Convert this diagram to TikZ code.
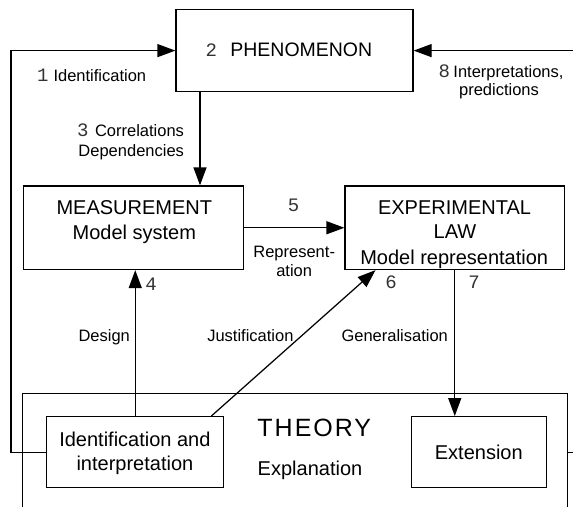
\documentclass[tikz,border=0pt]{standalone}
\usepackage{fontspec}
\setmainfont{Liberation Sans}
\newfontfamily\numfont{Liberation Mono}
\newfontfamily\widefont[LetterSpace=8]{Liberation Sans}
\usetikzlibrary{arrows.meta}

\begin{document}
\begin{tikzpicture}[x=1pt,y=-1pt,
  line width=1.25pt,
  box/.style={draw, inner sep=0pt},
  link/.style={-{Triangle[length=18pt,width=13pt]}},
  boxtext/.style={anchor=base, inner sep=0pt, font=\fontsize{20}{24}\selectfont},
  lbl/.style={anchor=base, inner sep=0pt, font=\fontsize{16.5}{19}\selectfont},
  digit/.style={anchor=base, inner sep=0pt, text=black!80, font=\fontsize{19}{22}\numfont},
]
\useasboundingbox (0,0) rectangle (573,507);

% main boxes
\node[box, minimum width=237pt, minimum height=82.2pt] (phen) at (294.5,50.6) {};
\node[box, minimum width=220pt, minimum height=83.5pt] (meas) at (133.5,227.75) {};
\node[box, minimum width=219.5pt, minimum height=83.5pt] (exp) at (454.75,227.75) {};
\node[box, minimum width=176.9pt, minimum height=71pt] (ident) at (135.25,452.2) {};
\node[box, minimum width=135.2pt, minimum height=71pt] (ext) at (478.8,452.2) {};

% theory frame, open at the bottom
\coordinate (thBL) at (22.7,507);
\coordinate (thTL) at (22.7,393.3);
\coordinate (thTR) at (567.6,393.3);
\coordinate (thBR) at (567.6,507);
\draw (thBL) -- (thTL) -- (thTR) -- (thBR);

% box texts
\node[boxtext] (phenT) at (205,56.7) [anchor=base west,
  font=\fontsize{19.5}{23}\selectfont]
  {{\color{black!80}\fontsize{19}{22}\numfont 2}\hspace{13.3pt}PHENOMENON};
\node[boxtext] (measA) at (134.3,214) {MEASUREMENT};
\node[boxtext] (measB) at (134.3,239) {Model system};
\node[boxtext] (expA) at (454.5,214) {EXPERIMENTAL};
\node[boxtext] (expB) at (455,238.3) {LAW};
\node[boxtext] (expC) at (454.2,264) {Model representation};
\node[boxtext] (identA) at (134.9,446) {Identification and};
\node[boxtext] (identB) at (134.9,470.7) {interpretation};
\node[boxtext] (extT) at (478.8,459.3) {Extension};
\node[boxtext, font=\fontsize{25}{29}\widefont] (theoryT) at (314.3,436) {THEORY};
\node[boxtext] (explT) at (310,475.7) {Explanation};

% connectors
\coordinate (lc) at (11,452.2);
\coordinate (rin) at (573,50.6);
\coordinate (rout) at (573,452.2);
\coordinate (a3) at (200,0);
\coordinate (j0) at (211.3,0);
\coordinate (j1) at (375.5,0);

\draw[link] (ident.west) -- (lc) |- (phen.west);
\draw[link] (rin) -- (phen.east);
\draw (thTR |- rout) -- (rout);
\draw[link] (phen.south -| a3) -- (meas.north -| a3);
\draw[link] (meas.east) -- (exp.west);
\draw[link] (ident.north) -- (ident.north |- meas.south);
\draw[link] (ident.north -| j0) -- (exp.south -| j1);
\draw[link] (exp.south) -- (exp.south |- ext.north);

% connector labels
\node[lbl, anchor=base west] (l1) at (36.5,81.7)
  {{\color{black!80}\fontsize{19}{22}\numfont 1}\hspace{5pt}Identification};
\node[lbl] (l8a) at (501,77.5)
  {{\color{black!80}\fontsize{19}{22}\numfont 8}\hspace{3.5pt}Interpretations,};
\node[lbl] (l8b) at (499,95) {predictions};
\node[lbl, anchor=base east] (l3a) at (184.6,136.7)
  {{\color{black!80}\fontsize{19}{22}\numfont 3}\hspace{6.5pt}Correlations};
\node[lbl, anchor=base east] (l3b) at (184.6,156.7) {Dependencies};
\node[digit] (l5) at (293.5,211.7) {5};
\node[lbl] (l5a) at (294.2,257.7) {Represent-};
\node[lbl] (l5b) at (294.2,276) {ation};
\node[digit] (l4) at (151,290.7) {4};
\node[digit] (l6) at (391,288.3) {6};
\node[digit] (l7) at (474,288.3) {7};
\node[lbl] (ldes) at (104.2,341) {Design};
\node[lbl] (ljus) at (250.4,341) {Justification};
\node[lbl] (lgen) at (394.7,341) {Generalisation};
\end{tikzpicture}
\end{document}
